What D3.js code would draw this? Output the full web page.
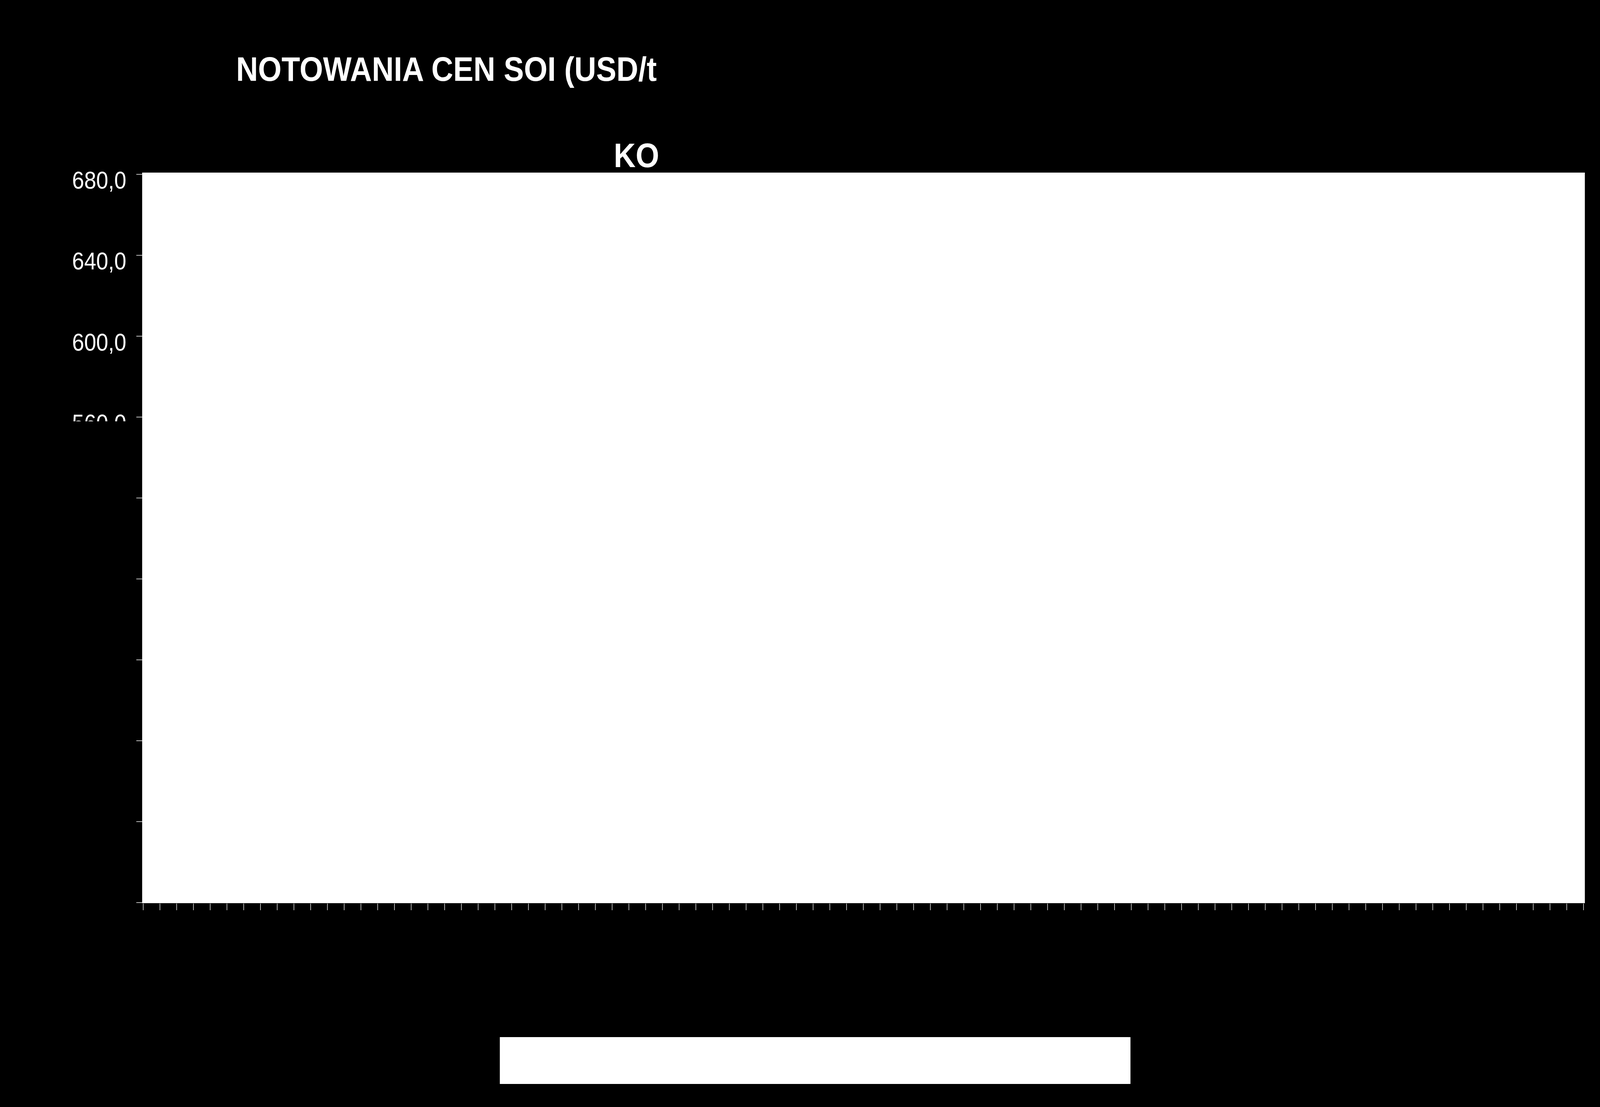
<!DOCTYPE html>
<html>
<head>
<meta charset="utf-8">
<script src="https://cdn.jsdelivr.net/npm/d3@7"></script>
<style>
  html, body { margin: 0; padding: 0; background: #000; overflow: hidden; }
  svg { display: block; }
</style>
</head>
<body>
<div id="chart"></div>
<script>
// chart content
const titleLine1 = "NOTOWANIA CEN SOI (USD/t";
const titleLine2 = "KO";
const yTicks = [680, 640, 600, 560, 520, 480, 440, 400, 360, 320];
const yDomain = [320, 680];
// 86 categories on the x axis (labels not readable in the picture)
const categories = [
  "1", "2", "3", "4", "5", "6", "7", "8", "9", "10",
  "11", "12", "13", "14", "15", "16", "17", "18", "19", "20",
  "21", "22", "23", "24", "25", "26", "27", "28", "29", "30",
  "31", "32", "33", "34", "35", "36", "37", "38", "39", "40",
  "41", "42", "43", "44", "45", "46", "47", "48", "49", "50",
  "51", "52", "53", "54", "55", "56", "57", "58", "59", "60",
  "61", "62", "63", "64", "65", "66", "67", "68", "69", "70",
  "71", "72", "73", "74", "75", "76", "77", "78", "79", "80",
  "81", "82", "83", "84", "85", "86"
];

const W = 4648, H = 2835;
const plot = { left: 413, right: 4604, top: 442, bottom: 2313 };
const font = "'Liberation Sans', Arial, sans-serif";
const fmt = d => d3.format(".1f")(d).replace(".", ",");

// the drawing is laid out on a 4648x2835 grid and stretched to the window
const svg = d3.select("#chart").append("svg")
    .attr("viewBox", "0 0 " + W + " " + H)
    .attr("preserveAspectRatio", "none")
    .style("width", "100vw")
    .style("height", "100vh")
    .style("background", "#000");

// region where the text is visible
svg.append("defs").append("clipPath")
    .attr("id", "textClip")
  .append("rect")
    .attr("x", 0)
    .attr("y", 0)
    .attr("width", 1919)
    .attr("height", 1079);

// plot area
svg.append("rect")
    .attr("x", plot.left)
    .attr("y", plot.top)
    .attr("width", plot.right - plot.left)
    .attr("height", plot.bottom - plot.top)
    .attr("fill", "#fff");

const yScale = d3.scaleLinear().domain(yDomain).range([2311, 446]);
const xScale = d3.scaleBand().domain(categories).range([416, 4600]);

// y axis tick marks
const yAxis = d3.axisLeft(yScale)
    .tickValues(yTicks)
    .tickSize(17)
    .tickFormat("");

const yG = svg.append("g")
    .attr("id", "y_axis")
    .attr("transform", "translate(" + plot.left + ",0)")
    .call(yAxis);
yG.select(".domain").remove();
yG.selectAll(".tick line")
    .attr("stroke", "#fff")
    .attr("stroke-width", 1.5);

// y labels, only visible inside the text region
const yLabels = svg.append("g").attr("clip-path", "url(#textClip)");
yLabels.selectAll("text")
    .data(yTicks)
    .enter()
    .append("text")
    .attr("x", plot.left - 17 - 29)
    .attr("y", d => yScale(d))
    .attr("dy", "0.59em")
    .attr("text-anchor", "end")
    .attr("fill", "#fff")
    .style("font-family", font)
    .style("font-size", "63px")
    .text(fmt);

// x axis tick marks at category boundaries
const xEdges = categories.map(c => xScale(c)).concat([xScale.range()[1]]);
svg.append("g")
    .attr("id", "x_axis")
    .selectAll("line")
    .data(xEdges)
    .enter()
    .append("line")
    .attr("x1", d => d)
    .attr("x2", d => d)
    .attr("y1", plot.bottom + 1)
    .attr("y2", plot.bottom + 18)
    .attr("stroke", "#fff")
    .attr("stroke-width", 1.5);

// title
const titleG = svg.append("g").attr("clip-path", "url(#textClip)");
titleG.append("text")
    .attr("x", 686)
    .attr("y", 207)
    .attr("fill", "#fff")
    .style("font-family", font)
    .style("font-weight", "bold")
    .style("font-size", "88px")
    .text(titleLine1);
titleG.append("text")
    .attr("x", 1783)
    .attr("y", 428)
    .attr("fill", "#fff")
    .style("font-family", font)
    .style("font-weight", "bold")
    .style("font-size", "88px")
    .text(titleLine2);

// legend box
svg.append("rect")
    .attr("x", 1452)
    .attr("y", 2656)
    .attr("width", 3284 - 1452)
    .attr("height", 2776 - 2656)
    .attr("fill", "#fff");
</script>
</body>
</html>
